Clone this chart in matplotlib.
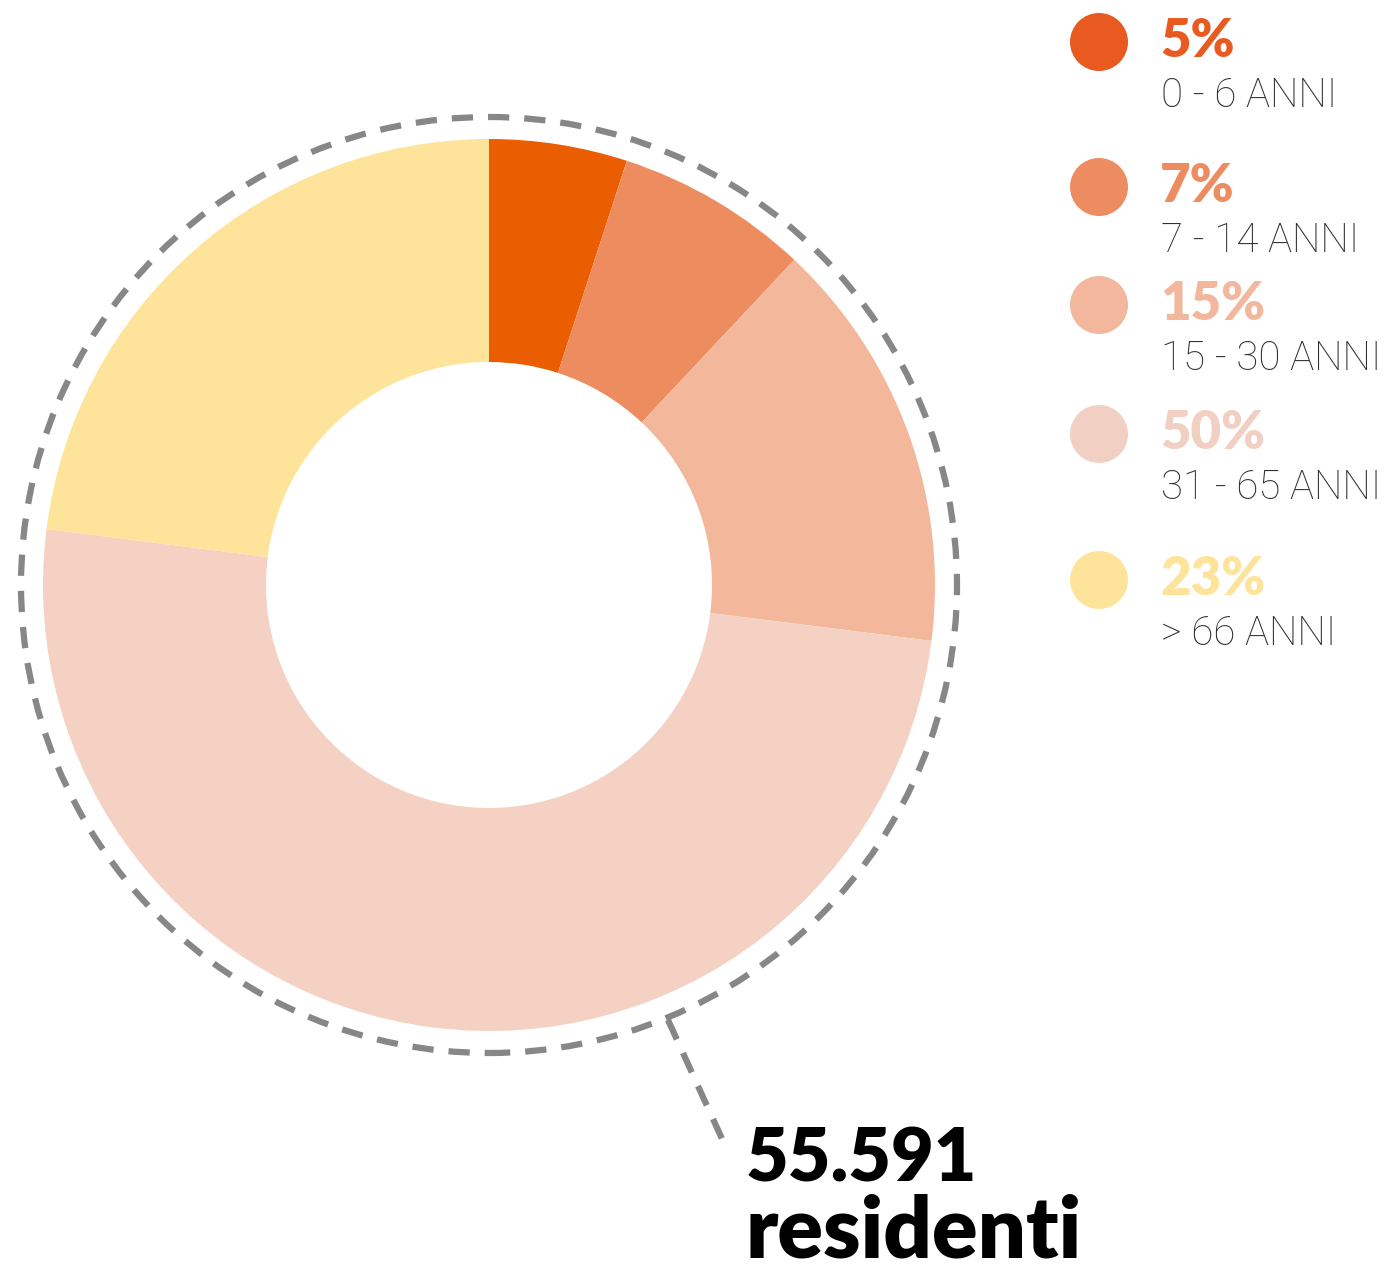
import matplotlib.pyplot as plt
from matplotlib.patches import Circle

plt.rcParams['font.family'] = ['Lato', 'DejaVu Sans']

# dati
quote = [5, 7, 15, 50, 23]
percentuali = ['5%', '7%', '15%', '50%', '23%']
fasce = ['0 - 6 ANNI', '7 - 14 ANNI', '15 - 30 ANNI', '31 - 65 ANNI', '> 66 ANNI']
colori_fette = ['#EA5D00', '#ED8C5F', '#F3B89C', '#F4D1C3', '#FEE39B']
colori_legenda = ['#E95A20', '#ED8C61', '#F3B79D', '#F1D0C3', '#FEE39A']
totale = '55.591'
etichetta_totale = 'residenti'

W, H = 1385, 1272
fig = plt.figure(figsize=(W / 100, H / 100), dpi=100)
ax = fig.add_axes([0, 0, 1, 1])
ax.set_xlim(0, W)
ax.set_ylim(0, H)
ax.set_aspect('equal')
ax.axis('off')

# ciambella
cx, cy = 489, H - 585
r = 446
ax.pie(quote, colors=colori_fette, startangle=90, counterclock=False,
       center=(cx, cy), radius=r, wedgeprops=dict(width=r / 2, linewidth=0))
ax.set_xlim(0, W)
ax.set_ylim(0, H)

# cerchio tratteggiato
grigio = '#87878A'
ax.add_patch(Circle((cx, cy), 468, fill=False, edgecolor=grigio, linewidth=4.5,
                    linestyle=(0, (3.4, 2.4))))
ax.plot([668, 728], [H - 1020, H - 1152], color=grigio, linewidth=4.5,
        linestyle=(0, (3.4, 2.4)), solid_capstyle='butt')

# totale
ax.text(746, H - 1182, totale, fontsize=53, fontweight='heavy', color='black',
        ha='left', va='baseline')
ax.text(746, H - 1257, etichetta_totale, fontsize=61, fontweight='heavy',
        color='black', ha='left', va='baseline')

# legenda
pos_y = [42, 187, 305, 434, 580]
for y, p, f, c in zip(pos_y, percentuali, fasce, colori_legenda):
    ax.add_patch(Circle((1099, H - y), 29, color=c, linewidth=0))
    ax.text(1160, H - (y + 15), p, fontsize=38, fontweight='heavy', color=c,
            ha='left', va='baseline')
    ax.text(1161, H - (y + 65), f, fontsize=29, fontweight='light',
            family=['Roboto', 'DejaVu Sans'], color='#2E2E2E',
            ha='left', va='baseline')

fig.savefig('out.png', dpi=100)
